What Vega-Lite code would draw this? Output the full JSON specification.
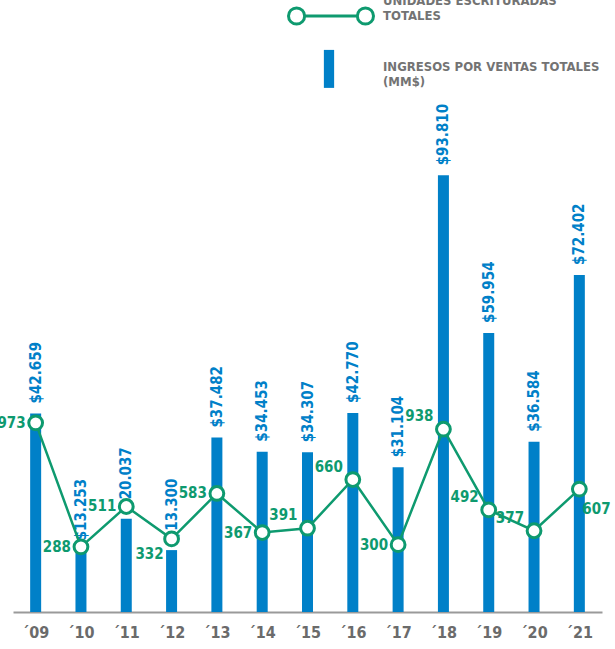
{
  "$schema": "https://vega.github.io/schema/vega-lite/v6.json",
  "autosize": {"type": "none"},
  "width": 589,
  "height": 512,
  "padding": {"left": 13, "top": 100, "right": 13, "bottom": 37},
  "background": "white",
  "config": {
    "view": {"stroke": null},
    "locale": {"number": {"decimal": ",", "thousands": ".", "grouping": [3], "currency": ["$", ""]}},
    "font": "DejaVu Sans Condensed"
  },
  "data": {
    "values": [
      {"year": "´09", "unidades": 973, "ingresos": 42659},
      {"year": "´10", "unidades": 288, "ingresos": 13253},
      {"year": "´11", "unidades": 511, "ingresos": 20037},
      {"year": "´12", "unidades": 332, "ingresos": 13300},
      {"year": "´13", "unidades": 583, "ingresos": 37482},
      {"year": "´14", "unidades": 367, "ingresos": 34453},
      {"year": "´15", "unidades": 391, "ingresos": 34307},
      {"year": "´16", "unidades": 660, "ingresos": 42770},
      {"year": "´17", "unidades": 300, "ingresos": 31104},
      {"year": "´18", "unidades": 938, "ingresos": 93810},
      {"year": "´19", "unidades": 492, "ingresos": 59954},
      {"year": "´20", "unidades": 377, "ingresos": 36584},
      {"year": "´21", "unidades": 607, "ingresos": 72402}
    ]
  },
  "encoding": {
    "x": {
      "field": "year", "type": "ordinal", "sort": null,
      "scale": {"paddingInner": 0, "paddingOuter": 0},
      "axis": {
        "title": null, "labelAngle": 0, "ticks": false, "domainColor": "#9a9a9a", "domainWidth": 2,
        "labelFont": "DejaVu Sans Condensed", "labelFontWeight": "bold", "labelFontSize": 16,
        "labelColor": "#6b6b6b", "labelPadding": 12
      }
    }
  },
  "layer": [
    {
      "encoding": {
        "y": {"field": "ingresos", "type": "quantitative", "scale": {"domain": [0, 110000]}, "axis": null}
      },
      "layer": [
        {
          "mark": {"type": "bar", "width": 11},
          "encoding": {
            "fill": {
              "datum": "INGRESOS POR VENTAS TOTALES|(MM$)",
              "scale": {"range": ["#0080C8"]},
              "legend": {
                "title": null, "orient": "none", "legendX": 297, "legendY": -52, "padding": 0,
                "symbolType": "M -0.27 -0.9 H 0.27 V 1.1 H -0.27 Z", "symbolSize": 1444, "symbolStrokeWidth": 0,
                "labelExpr": "split(datum.label, '|')", "labelFont": "DejaVu Sans Condensed", "labelFontWeight": "bold",
                "labelFontSize": 13, "labelColor": "#737373", "labelOffset": 35, "labelLimit": 400
              }
            }
          }
        },
        {
          "mark": {"type": "text", "angle": 270, "align": "left", "baseline": "middle", "dx": 10, "font": "DejaVu Sans Condensed", "fontWeight": "bold", "fontSize": 15, "fill": "#0080C8"},
          "encoding": {"text": {"field": "ingresos", "type": "quantitative", "format": "$,"}}
        }
      ]
    },
    {
      "encoding": {
        "y": {"field": "unidades", "type": "quantitative", "scale": {"domain": [-72, 2757]}, "axis": null}
      },
      "layer": [
        {
          "mark": {"type": "line", "strokeWidth": 2.5},
          "encoding": {
            "stroke": {
              "datum": "UNIDADES ESCRITURADAS|TOTALES",
              "scale": {"range": ["#0E9A6F"]},
              "legend": {
                "title": null, "orient": "none", "legendX": 274, "legendY": -143, "padding": 0,
                "symbolType": "M -0.62 0.353 L 0.62 0.353 M -1 0.353 A 0.19 0.19 0 1 0 -0.62 0.353 A 0.19 0.19 0 1 0 -1 0.353 Z M 0.62 0.353 A 0.19 0.19 0 1 0 1 0.353 A 0.19 0.19 0 1 0 0.62 0.353 Z",
                "symbolSize": 7225, "symbolStrokeWidth": 3, "symbolFillColor": "white", "symbolStrokeColor": "#0E9A6F",
                "labelExpr": "split(datum.label, '|')", "labelFont": "DejaVu Sans Condensed", "labelFontWeight": "bold",
                "labelFontSize": 13, "labelColor": "#737373", "labelOffset": 8, "labelLimit": 400
              }
            }
          }
        },
        {
          "mark": {"type": "point", "shape": "circle", "filled": true, "fill": "white", "stroke": "#0E9A6F", "strokeWidth": 3, "size": 190, "opacity": 1}
        },
        {
          "transform": [{"filter": "indexof(['´09','´10','´11','´13','´14','´17'], datum.year) >= 0"}],
          "mark": {"type": "text", "align": "right", "baseline": "middle", "dx": -10, "font": "DejaVu Sans Condensed", "fontWeight": "bold", "fontSize": 15, "fill": "#0E9A6F"},
          "encoding": {"text": {"field": "unidades", "type": "quantitative"}}
        },
        {
          "transform": [{"filter": "datum.year == '´12'"}],
          "mark": {"type": "text", "align": "right", "baseline": "middle", "dx": -8, "dy": 15, "font": "DejaVu Sans Condensed", "fontWeight": "bold", "fontSize": 15, "fill": "#0E9A6F"},
          "encoding": {"text": {"field": "unidades", "type": "quantitative"}}
        },
        {
          "transform": [{"filter": "indexof(['´15','´16','´18','´19','´20'], datum.year) >= 0"}],
          "mark": {"type": "text", "align": "right", "baseline": "middle", "dx": -10, "dy": -13, "font": "DejaVu Sans Condensed", "fontWeight": "bold", "fontSize": 15, "fill": "#0E9A6F"},
          "encoding": {"text": {"field": "unidades", "type": "quantitative"}}
        },
        {
          "transform": [{"filter": "datum.year == '´21'"}],
          "mark": {"type": "text", "align": "left", "baseline": "middle", "dx": 3, "dy": 20, "font": "DejaVu Sans Condensed", "fontWeight": "bold", "fontSize": 15, "fill": "#0E9A6F"},
          "encoding": {"text": {"field": "unidades", "type": "quantitative"}}
        }
      ]
    }
  ],
  "resolve": {"scale": {"y": "independent"}}
}
